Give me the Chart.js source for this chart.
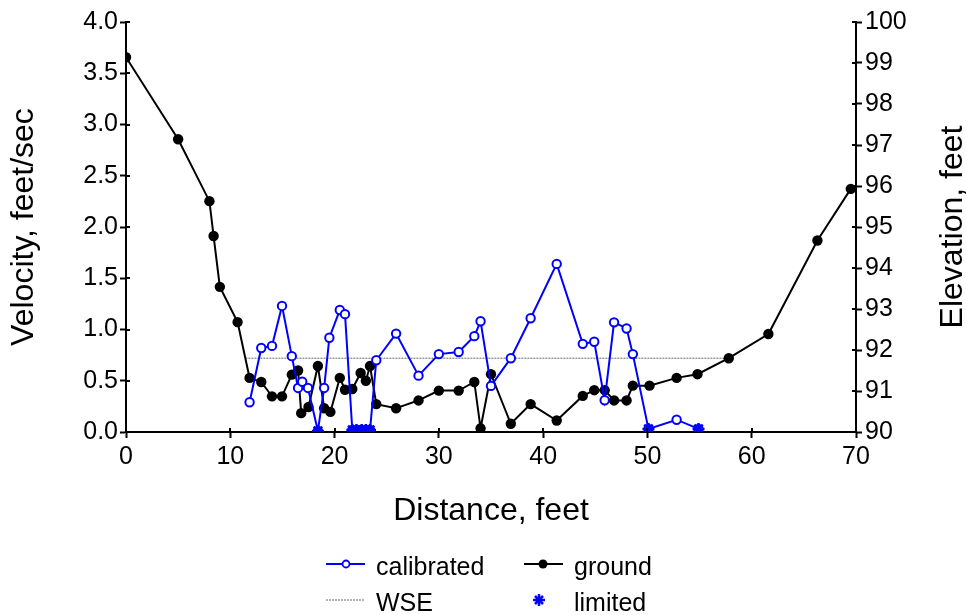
<!DOCTYPE html>
<html>
<head>
<meta charset="utf-8">
<title>Velocity and elevation profile</title>
<script src="https://cdn.jsdelivr.net/npm/chart.js@4.4.1/dist/chart.umd.min.js"></script>
<style>
  html, body { margin: 0; padding: 0; background: #fff; }
  #wrap { position: relative; width: 966px; height: 615px; font-family: 'Liberation Sans', Arial, sans-serif; }
  #chart { position: absolute; left: 0; top: 0; }
  #legendIcons { position: absolute; left: 0; top: 540px; }
  .lg { position: absolute; font-size: 25px; line-height: 25px; color: #000; white-space: nowrap; }
</style>
</head>
<body>
<div id="wrap">
  <canvas id="chart" width="966" height="615"></canvas>
  <svg id="legendIcons" width="966" height="75">
    <line x1="326" y1="24" x2="365" y2="24" stroke="#0000ff" stroke-width="2"/>
    <circle cx="346" cy="24" r="3.5" fill="#fff" stroke="#0000ff" stroke-width="1.8"/>
    <line x1="524" y1="24" x2="563" y2="24" stroke="#000" stroke-width="2"/>
    <circle cx="543" cy="24" r="4.5" fill="#000"/>
    <line x1="326" y1="60" x2="365" y2="60" stroke="#666" stroke-width="1" stroke-dasharray="2 1"/>
    <g stroke="#0000ff" stroke-width="2.5">
      <line x1="533" y1="60" x2="545" y2="60"/>
      <line x1="539" y1="54" x2="539" y2="66"/>
      <line x1="535" y1="56" x2="543" y2="64"/>
      <line x1="535" y1="64" x2="543" y2="56"/>
    </g>
  </svg>
  <div class="lg" style="left:376px; top:554px;">calibrated</div>
  <div class="lg" style="left:574px; top:554px;">ground</div>
  <div class="lg" style="left:376px; top:590px;">WSE</div>
  <div class="lg" style="left:574px; top:590px;">limited</div>
</div>
<script>
// ground profile (right axis, elevation in feet)
const groundDist = [0, 5.0, 8.0, 8.4, 9.0, 10.7, 11.85, 12.97, 14.0, 14.96, 15.9, 16.5, 16.8, 17.5, 18.4, 19.0, 19.6, 20.5, 21.0, 21.7, 22.5, 23.0, 23.4, 24.0, 25.9, 28.05, 30.0, 31.9, 33.4, 34.0, 35.0, 36.9, 38.8, 41.3, 43.8, 44.9, 45.9, 46.8, 48.0, 48.6, 50.2, 52.8, 54.8, 57.8, 61.6, 66.3, 69.5];
const groundElev = [99.14, 97.14, 95.63, 94.78, 93.54, 92.68, 91.32, 91.22, 90.87, 90.87, 91.40, 91.50, 90.46, 90.61, 91.61, 90.58, 90.49, 91.32, 91.03, 91.05, 91.44, 91.25, 91.61, 90.68, 90.58, 90.77, 91.01, 91.01, 91.22, 90.09, 91.41, 90.20, 90.68, 90.28, 90.88, 91.02, 91.02, 90.77, 90.77, 91.13, 91.13, 91.32, 91.41, 91.80, 92.39, 94.67, 95.93];

// calibrated velocity (left axis, feet/sec)
const calDist = [11.85, 12.97, 14.0, 14.96, 15.9, 16.5, 16.9, 17.45, 18.4, 19.0, 19.5, 20.5, 21.0, 21.7, 22.1, 22.6, 23.0, 23.4, 24.0, 25.9, 28.05, 30.0, 31.9, 33.4, 34.0, 35.0, 36.9, 38.8, 41.3, 43.8, 44.9, 45.9, 46.8, 48.0, 48.6, 50.1, 52.8, 54.9];
const calVel = [0.29, 0.82, 0.84, 1.23, 0.74, 0.43, 0.49, 0.43, 0.01, 0.43, 0.92, 1.19, 1.15, 0.02, 0.02, 0.02, 0.02, 0.02, 0.70, 0.96, 0.55, 0.76, 0.78, 0.935, 1.08, 0.45, 0.72, 1.11, 1.64, 0.86, 0.88, 0.31, 1.07, 1.01, 0.76, 0.03, 0.12, 0.03];

// limited velocity points
const limDist = [18.4, 21.7, 22.1, 22.6, 23.0, 23.4, 50.1, 54.9];
const limVel = [0.01, 0.02, 0.02, 0.02, 0.02, 0.02, 0.03, 0.03];

// water surface elevation
const wseDist = [11.45, 57.8];
const wseElev = [91.8, 91.8];

const xTicks = [0, 10, 20, 30, 40, 50, 60, 70];

const toPoints = (xs, ys) => xs.map((x, i) => ({ x: x, y: ys[i] }));

Chart.defaults.font.family = "'Liberation Sans', Arial, sans-serif";
Chart.defaults.color = '#000';

// right title reads bottom-to-top, like the left one
const rightTitle = {
    id: 'rightTitle',
    afterDraw(chart) {
        const { ctx, chartArea } = chart;
        ctx.save();
        ctx.translate(962, (chartArea.top + chartArea.bottom) / 2);
        ctx.rotate(-Math.PI / 2);
        ctx.font = "32px 'Liberation Sans', Arial, sans-serif";
        ctx.fillStyle = '#000';
        ctx.textAlign = 'center';
        ctx.textBaseline = 'alphabetic';
        ctx.fillText('Elevation, feet', 0, 0);
        ctx.restore();
    }
};

// short inner part of the tick marks, so they cross the axis lines
const innerTicks = {
    id: 'innerTicks',
    afterDraw(chart) {
        const { ctx, chartArea, scales } = chart;
        const len = 4;
        ctx.save();
        ctx.strokeStyle = '#000';
        ctx.lineWidth = 2;
        ctx.beginPath();
        scales.x.ticks.forEach(t => {
            const px = Math.round(scales.x.getPixelForValue(t.value));
            ctx.moveTo(px, chartArea.bottom);
            ctx.lineTo(px, chartArea.bottom - len);
        });
        scales.y.ticks.forEach(t => {
            const py = Math.round(scales.y.getPixelForValue(t.value));
            ctx.moveTo(chartArea.left, py);
            ctx.lineTo(chartArea.left + len, py);
        });
        scales.y2.ticks.forEach(t => {
            const py = Math.round(scales.y2.getPixelForValue(t.value));
            ctx.moveTo(chartArea.right, py);
            ctx.lineTo(chartArea.right - len, py);
        });
        ctx.stroke();
        ctx.restore();
    }
};

const axisGrid = { drawOnChartArea: false, drawTicks: true, tickLength: 6, tickWidth: 2, tickColor: '#000' };
const axisBorder = { color: '#000', width: 2 };

new Chart(document.getElementById('chart'), {
    type: 'scatter',
    data: {
        datasets: [{
            label: 'limited',
            data: toPoints(limDist, limVel),
            yAxisID: 'y',
            showLine: false,
            pointStyle: 'star',
            pointRadius: 6,
            borderColor: '#0000ff',
            pointBorderWidth: 2.5
        }, {
            label: 'calibrated',
            data: toPoints(calDist, calVel),
            yAxisID: 'y',
            showLine: true,
            borderColor: '#0000ff',
            borderWidth: 2,
            pointStyle: 'circle',
            pointRadius: 4.2,
            pointBorderWidth: 2,
            pointBorderColor: '#0000ff',
            pointBackgroundColor: '#fff'
        }, {
            label: 'ground',
            data: toPoints(groundDist, groundElev),
            yAxisID: 'y2',
            showLine: true,
            borderColor: '#000',
            borderWidth: 2,
            pointRadius: 5.2,
            pointBorderWidth: 0,
            pointBackgroundColor: '#000'
        }, {
            label: 'WSE',
            data: toPoints(wseDist, wseElev),
            yAxisID: 'y2',
            showLine: true,
            borderColor: '#666',
            borderWidth: 1,
            borderDash: [2, 1],
            pointRadius: 0
        }]
    },
    options: {
        responsive: false,
        animation: false,
        devicePixelRatio: 1,
        layout: { padding: { top: 22, left: 0, right: 0, bottom: 0 } },
        plugins: {
            legend: { display: false },
            tooltip: { enabled: false }
        },
        scales: {
            x: {
                type: 'linear',
                min: 0,
                max: 70,
                afterBuildTicks: (s) => { s.ticks = xTicks.map(v => ({ value: v })); },
                ticks: { font: { size: 25 }, padding: 4, maxRotation: 0, autoSkip: false },
                grid: axisGrid,
                border: axisBorder,
                title: { display: true, text: 'Distance, feet', font: { size: 32, lineHeight: 1 }, padding: { top: 0, bottom: 88 } },
                afterFit: (s) => { s.height = 183; }
            },
            y: {
                position: 'left',
                min: 0,
                max: 4,
                ticks: { stepSize: 0.5, font: { size: 25 }, padding: 2, autoSkip: false, callback: v => v.toFixed(1) },
                grid: axisGrid,
                border: axisBorder,
                title: { display: true, text: 'Velocity, feet/sec', font: { size: 32, lineHeight: 1 }, padding: { top: 8, bottom: 0 } },
                afterFit: (s) => { s.width = 126; }
            },
            y2: {
                position: 'right',
                min: 90,
                max: 100,
                ticks: { stepSize: 1, font: { size: 25 }, padding: 3, autoSkip: false },
                grid: axisGrid,
                border: axisBorder,
                afterFit: (s) => { s.width = 110; }
            }
        }
    },
    plugins: [rightTitle, innerTicks]
});
</script>
</body>
</html>
